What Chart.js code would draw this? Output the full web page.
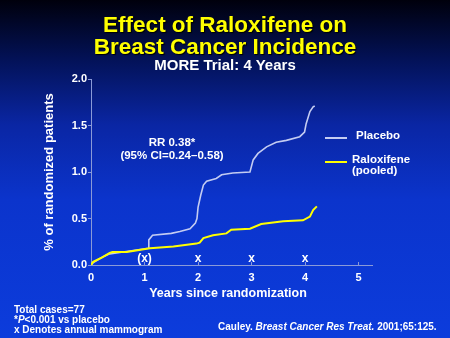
<!DOCTYPE html>
<html><head><meta charset="utf-8">
<script src="https://cdn.jsdelivr.net/npm/chart.js@4"></script>
<style>
html,body{margin:0;padding:0;}
body{width:450px;height:338px;overflow:hidden;position:relative;
background:linear-gradient(to bottom,#00000c 0px,#031258 60px,#0a26a4 125px,#0b34cc 200px,#0c3cdc 338px);
font-family:"Liberation Sans",Arial,sans-serif;font-weight:bold;color:#fff;}
#wrap{position:absolute;left:0;top:0;width:450px;height:338px;}
.t{position:absolute;white-space:nowrap;line-height:1;color:#fff;}
.title{left:0;width:450px;text-align:center;color:#ffff00;font-size:22.5px;text-shadow:1px 1px 1px #000;}
.sub{left:0;width:450px;text-align:center;font-size:15px;top:57px;}
.ann{font-size:11.5px;text-align:center;width:140px;left:102px;}
.leg{font-size:11.5px;}
.sw{position:absolute;height:2px;width:22px;}
.foot{font-size:10px;left:14px;}
</style></head>
<body>
<div id="wrap"><canvas id="c" width="450" height="338"></canvas></div>
<div class="t title" style="top:14px">Effect of Raloxifene on</div>
<div class="t title" style="top:36px">Breast Cancer Incidence</div>
<div class="t sub">MORE Trial: 4 Years</div>
<div class="t ann" style="top:137px">RR 0.38*</div>
<div class="t ann" style="top:150px">(95% CI=0.24–0.58)</div>
<div class="sw" style="left:325px;top:137px;background:#c4ccf2"></div>
<div class="t leg" style="left:356px;top:130px">Placebo</div>
<div class="sw" style="left:325px;top:161px;background:#ffff00"></div>
<div class="t leg" style="left:352px;top:154px">Raloxifene</div>
<div class="t leg" style="left:352px;top:165px">(pooled)</div>
<div class="t" style="left:0;width:456px;text-align:center;top:287px;font-size:12.5px">Years since randomization</div>
<div class="t foot" style="top:305px">Total cases=77</div>
<div class="t foot" style="top:315px">*<i>P</i>&lt;0.001 vs placebo</div>
<div class="t foot" style="top:325px">x Denotes annual mammogram</div>
<div class="t" style="left:218px;top:322px;font-size:10px">Cauley. <i>Breast Cancer Res Treat.</i> 2001;65:125.</div>
<script>
const placeboYears=[0,0.05,0.2,0.35,0.6,1.07,1.08,1.15,1.5,1.66,1.85,1.95,1.98,2.0,2.05,2.1,2.16,2.34,2.44,2.65,2.97,3.03,3.12,3.28,3.46,3.65,3.9,3.99,4.02,4.09,4.15,4.18];
const placeboPct=[0,0.03,0.08,0.12,0.14,0.18,0.27,0.32,0.34,0.36,0.39,0.45,0.5,0.62,0.75,0.86,0.9,0.93,0.97,0.99,1.0,1.13,1.2,1.27,1.32,1.34,1.38,1.43,1.52,1.65,1.7,1.71];
const raloxYears=[0,0.04,0.2,0.35,0.4,0.67,1.1,1.54,1.97,2.03,2.1,2.28,2.53,2.62,2.97,3.18,3.59,3.96,4.09,4.15,4.22];
const raloxPct=[0,0.035,0.08,0.13,0.14,0.14,0.18,0.2,0.23,0.24,0.29,0.32,0.34,0.38,0.39,0.44,0.47,0.48,0.52,0.59,0.63];
const mammoYears=[1,2,3,4];
const mammoLabels=["(x)","x","x","x"];
const xTicks=[0,1,2,3,4,5];
const yTicks=[0,0.5,1.0,1.5,2.0];

const pts=(xs,ys)=>xs.map((x,i)=>({x:x,y:ys[i]}));
const markPlugin={id:'marks',afterDatasetsDraw(chart){
  const ctx=chart.ctx,xs=chart.scales.x,ys=chart.scales.y;
  ctx.save();ctx.fillStyle='#ffffff';ctx.font='bold 12px "Liberation Sans", Arial';
  ctx.textAlign='center';ctx.textBaseline='middle';
  mammoYears.forEach((v,i)=>ctx.fillText(mammoLabels[i],xs.getPixelForValue(v),ys.getPixelForValue(0)-6));
  ctx.restore();
}};
new Chart(document.getElementById('c'),{
  type:'line',
  data:{datasets:[
    {label:'Raloxifene (pooled)',data:pts(raloxYears,raloxPct),borderColor:'#ffff00',borderWidth:2,pointRadius:0,tension:0},
    {label:'Placebo',data:pts(placeboYears,placeboPct),borderColor:'#c4ccf2',borderWidth:1.6,pointRadius:0,tension:0}
  ]},
  options:{responsive:false,animation:false,
    layout:{padding:{left:0,top:79,right:78,bottom:0}},
    plugins:{legend:{display:false},tooltip:{enabled:false}},
    scales:{
      x:{type:'linear',min:0,max:5.25,
        afterFit(s){s.height=73;},
        afterBuildTicks(s){s.ticks=xTicks.map(v=>({value:v}));},
        border:{color:'#8a9ad8',width:1},
        grid:{display:true,drawOnChartArea:false,color:'#8a9ad8',tickLength:-3},
        ticks:{color:'#ffffff',padding:9,font:{family:'"Liberation Sans", Arial',weight:'bold',size:11},maxRotation:0}},
      y:{type:'linear',min:0,max:2,
        afterFit(s){s.width=91;},
        afterBuildTicks(s){s.ticks=yTicks.map(v=>({value:v}));},
        border:{color:'#8a9ad8',width:1},
        grid:{display:true,drawOnChartArea:false,color:'#8a9ad8',tickLength:3},
        title:{display:true,text:'% of randomized patients',color:'#ffffff',padding:{top:42,bottom:0},
          font:{family:'"Liberation Sans", Arial',weight:'bold',size:13}},
        ticks:{color:'#ffffff',padding:1,font:{family:'"Liberation Sans", Arial',weight:'bold',size:11},callback:v=>v.toFixed(1)}}
    }
  },
  plugins:[markPlugin]
});
</script>
</body></html>
